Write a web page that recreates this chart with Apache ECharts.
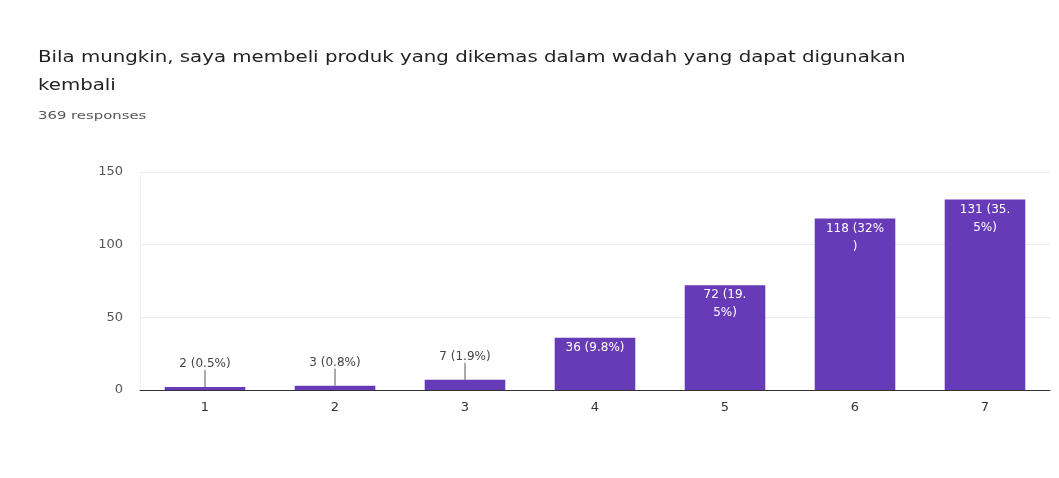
<!DOCTYPE html>
<html>
<head>
<meta charset="utf-8">
<script src="https://cdn.jsdelivr.net/npm/echarts@6/dist/echarts.min.js"></script>
<style>
  html, body { margin: 0; padding: 0; background: #fff; }
  #chart { width: 1059px; height: 478px; }
</style>
</head>
<body>
<div id="chart"></div>
<script>
// Survey question, response count and answer scale
const questionLines = ['Bila mungkin, saya membeli produk yang dikemas dalam wadah yang dapat digunakan', 'kembali'];
const responseText = '369 responses';
const categories = ['1', '2', '3', '4', '5', '6', '7'];
const counts = [2, 3, 7, 36, 72, 118, 131];
const yTicks = [0, 50, 100, 150];

const total = counts.reduce((a, b) => a + b, 0);
const FONT = 'DejaVu Sans, Verdana, sans-serif';

function pctText(v) {
  let p = (v / total * 100).toFixed(1);
  if (p.endsWith('.0')) p = p.slice(0, -2);
  return v + ' (' + p + '%)';
}

// wrapping width for the labels inside the taller bars
const innerWrap = { 3: 76, 4: 48, 5: 60, 6: 54 };

// small bars get their label raised above the bar with a leader line
const data = counts.map((v, i) => {
  const inside = v > 20;
  const item = { value: v };
  if (inside) {
    item.label = {
      position: 'insideTop',
      distance: 1,
      color: '#ffffff',
      width: innerWrap[i] || 60,
      overflow: 'breakAll',
      lineHeight: 18
    };
  } else {
    item.label = {
      position: 'top',
      distance: 4,
      color: '#444444'
    };
    item.labelLine = { show: true, lineStyle: { color: '#555555', width: 1 } };
  }
  return item;
});

const chart = echarts.init(document.getElementById('chart'), null, { renderer: 'canvas' });
chart.setOption({
  backgroundColor: '#ffffff',
  animation: false,
  textStyle: { fontFamily: FONT },
  graphic: [
    {
      type: 'text', x: 38, y: 58, scaleX: 1.235,
      style: { text: questionLines[0], font: '16px ' + FONT, fill: '#222222', verticalAlign: 'middle' }
    },
    {
      type: 'text', x: 38, y: 86, scaleX: 1.235,
      style: { text: questionLines[1], font: '16px ' + FONT, fill: '#222222', verticalAlign: 'middle' }
    },
    {
      type: 'text', x: 38, y: 116, scaleX: 1.35,
      style: { text: responseText, font: '11px ' + FONT, fill: '#555555', verticalAlign: 'middle' }
    }
  ],
  grid: { left: 140, right: 9, top: 172, bottom: 88, containLabel: false },
  xAxis: {
    type: 'category',
    data: categories,
    axisLine: { show: true, lineStyle: { color: '#333333', width: 1 } },
    axisTick: { show: false },
    axisLabel: { color: '#333333', fontSize: 13, margin: 11 }
  },
  yAxis: {
    type: 'value',
    min: yTicks[0],
    max: yTicks[yTicks.length - 1],
    interval: 50,
    axisLine: { show: true, lineStyle: { color: '#f2f2f2' } },
    axisTick: { show: false },
    axisLabel: { color: '#555555', fontSize: 13, margin: 17 },
    splitLine: { lineStyle: { color: '#ececec' } }
  },
  series: [{
    type: 'bar',
    data: data,
    barWidth: '62%',
    itemStyle: { color: '#673ab7' },
    label: {
      show: true,
      fontSize: 12,
      formatter: (p) => pctText(p.value)
    },
    labelLayout: (params) => counts[params.dataIndex] > 20 ? {} : { dy: -13 }
  }]
});
</script>
</body>
</html>
